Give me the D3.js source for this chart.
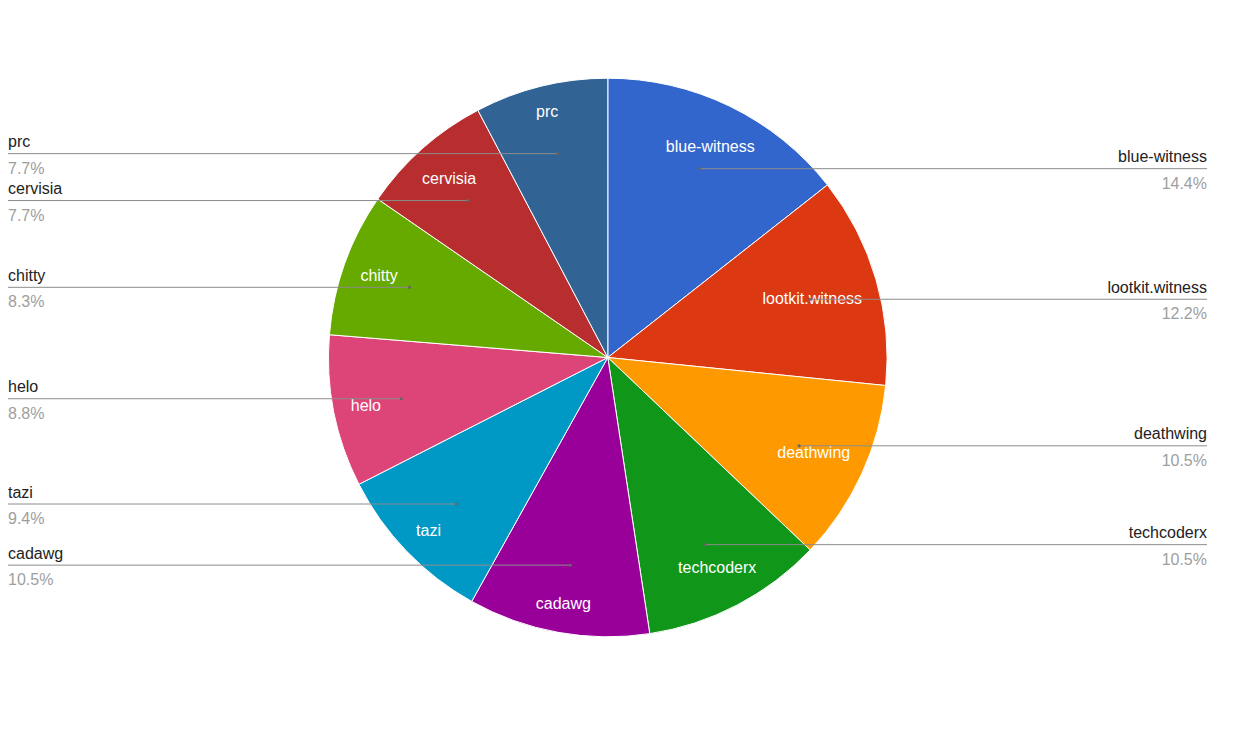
<!DOCTYPE html>
<html>
<head>
<meta charset="utf-8">
<script src="https://cdn.jsdelivr.net/npm/d3@7"></script>
<style>
  html, body { margin: 0; padding: 0; background: #fff; }
  svg { display: block; font-family: "Liberation Sans", Arial, sans-serif; }
</style>
</head>
<body>
<svg id="chart" width="1250" height="750"></svg>
<script>
const categories = ["blue-witness", "lootkit.witness", "deathwing", "techcoderx", "cadawg", "tazi", "helo", "chitty", "cervisia", "prc"];
const values = [14.4, 12.2, 10.5, 10.5, 10.5, 9.4, 8.8, 8.3, 7.7, 7.7];
const colors = ["#3366cc", "#dc3912", "#ff9900", "#109618", "#990099", "#0099c6", "#dd4477", "#66aa00", "#b82e2e", "#316395"];

const W = 1250, H = 750;
const cx = 607.8, cy = 357.5, R = 279.3;
const fontSize = 16;

const svg = d3.select("#chart");
const g = svg.append("g").attr("transform", `translate(${cx},${cy})`);

const data = categories.map((c, i) => ({ name: c, value: values[i], color: colors[i] }));
const total = d3.sum(values);
const pie = d3.pie().value(d => d.value).sort(null);
const arcs = pie(data);
const arc = d3.arc().innerRadius(0).outerRadius(R);

g.selectAll("path.slice").data(arcs).join("path")
  .attr("class", "slice")
  .attr("d", arc)
  .attr("fill", d => d.data.color)
  .attr("stroke", "#fff")
  .attr("stroke-width", 1);

const fmt = v => (v / total * 100).toFixed(1) + "%";
const dotR = 210.5;
const leftX = 8, rightX = 1207;

arcs.forEach(d => {
  const mid = (d.startAngle + d.endAngle) / 2;
  const ux = Math.sin(mid), uy = -Math.cos(mid);
  const px = cx + dotR * ux, py = cy + 0.5 + dotR * uy;
  const right = ux >= 0;
  svg.append("line")
    .attr("x1", right ? px : leftX).attr("x2", right ? rightX : px)
    .attr("y1", py).attr("y2", py)
    .attr("stroke", "#8c8c8c").attr("stroke-width", 1);
  svg.append("circle").attr("cx", px).attr("cy", py).attr("r", 1.6).attr("fill", "#666");
  svg.append("text")
    .attr("x", right ? rightX : leftX).attr("y", py - 6.5)
    .attr("text-anchor", right ? "end" : "start")
    .attr("font-size", fontSize).attr("fill", "#222")
    .text(d.data.name);
  svg.append("text")
    .attr("x", right ? rightX : leftX).attr("y", py + 20)
    .attr("text-anchor", right ? "end" : "start")
    .attr("font-size", fontSize).attr("fill", "#9e9e9e")
    .text(fmt(d.data.value));
});

// inner labels
arcs.forEach(d => {
  const mid = (d.startAngle + d.endAngle) / 2;
  const ux = Math.sin(mid), uy = -Math.cos(mid);
  const t = g.append("text")
    .attr("text-anchor", "middle")
    .attr("font-size", fontSize).attr("fill", "#fff")
    .text(d.data.name);
  const w = t.node().getComputedTextLength();
  const hw = w / 2, hh = 7;
  const vx = Math.sign(ux) * hw, vy = Math.sign(uy) * hh;
  const Rt = R - 16.5;
  const uv = ux * vx + uy * vy;
  const dd = -uv + Math.sqrt(uv * uv - (vx * vx + vy * vy) + Rt * Rt);
  t.attr("x", dd * ux).attr("y", dd * uy + 5.5);
});
</script>
</body>
</html>
